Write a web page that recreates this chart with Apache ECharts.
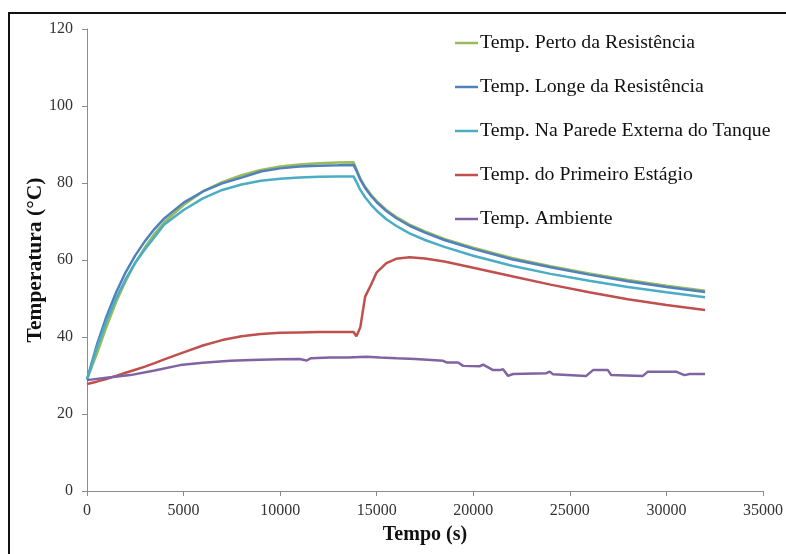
<!DOCTYPE html>
<html>
<head>
<meta charset="utf-8">
<script src="https://cdn.jsdelivr.net/npm/echarts@6/dist/echarts.min.js"></script>
<style>
  html, body { margin: 0; padding: 0; background: #fff; }
  #chart { width: 786px; height: 554px; }
</style>
</head>
<body>
<div id="chart"></div>
<script>
// tempos (s) comuns às quatro curvas suaves
const tempo = [0, 500, 1000, 1500, 2000, 2500, 3000, 3500, 4000, 5000, 6000, 7000, 8000, 9000, 10000, 11000, 12000, 13000,
  13800, 13950, 14150, 14400, 14700, 15000, 15500, 16000, 16700, 17500, 18500, 20000, 22000, 24000, 26000, 28000, 30000, 32000];

const perto = [29.0, 35.5, 42.5, 49.0, 54.5, 59.3, 63.3, 66.8, 69.8, 74.3, 77.8, 80.2, 82.0, 83.4, 84.3, 84.8, 85.1, 85.3,
  85.4, 83.6, 81.2, 79.0, 77.0, 75.3, 73.0, 71.2, 69.2, 67.4, 65.5, 63.2, 60.5, 58.4, 56.5, 54.8, 53.3, 52.0];

const longe = [29.0, 37.8, 45.2, 51.5, 56.8, 61.2, 64.9, 68.1, 70.8, 74.9, 77.8, 79.9, 81.4, 83.0, 83.8, 84.3, 84.5, 84.6,
  84.7, 83.2, 80.9, 78.7, 76.7, 75.0, 72.7, 70.9, 68.9, 67.1, 65.2, 62.9, 60.2, 58.1, 56.2, 54.5, 53.0, 51.7];

const parede = [29.0, 37.0, 44.0, 50.0, 55.0, 59.3, 62.8, 66.0, 69.2, 73.0, 76.0, 78.2, 79.6, 80.6, 81.1, 81.4, 81.6, 81.7,
  81.7, 80.3, 78.2, 76.3, 74.4, 72.8, 70.6, 68.9, 66.9, 65.2, 63.4, 61.1, 58.5, 56.4, 54.6, 53.0, 51.6, 50.3];

const primeiro = [27.8, 28.4, 29.1, 29.9, 30.7, 31.5, 32.3, 33.2, 34.2, 36.0, 37.8, 39.2, 40.2, 40.8, 41.1, 41.2, 41.3, 41.3,
  41.3, 40.2, 42.5, 50.5, 53.5, 56.8, 59.2, 60.3, 60.7, 60.4, 59.6, 58.0, 55.8, 53.6, 51.6, 49.8, 48.3, 47.0];

// temperatura ambiente tem degraus, tempos próprios
const tempoAmbiente = [0, 1000, 2240, 3500, 4825, 6000, 7410, 8500, 10000, 11000, 11375, 11600, 12580, 13500, 14480, 15165,
  16030, 17000, 18440, 18615, 19215, 19475, 20335, 20510, 21025, 21370, 21540, 21800, 22060, 23785, 23960, 24130, 25850,
  26200, 26970, 27140, 28780, 29040, 30500, 30930, 31200, 32000];
const ambiente = [28.8, 29.4, 30.1, 31.3, 32.7, 33.3, 33.8, 34.0, 34.2, 34.3, 33.9, 34.5, 34.7, 34.7, 34.9, 34.7,
  34.5, 34.3, 33.8, 33.4, 33.4, 32.5, 32.4, 32.8, 31.4, 31.4, 31.6, 29.9, 30.4, 30.6, 31.0, 30.3, 29.9,
  31.4, 31.4, 30.1, 29.9, 31.0, 31.0, 30.1, 30.4, 30.4];

const nomes = ['Temp. Perto da Resistência', 'Temp. Longe da Resistência', 'Temp. Na Parede Externa do Tanque',
  'Temp. do Primeiro Estágio', 'Temp. Ambiente'];
const cores = ['#9BBB59', '#4F81BD', '#4BACC6', '#C0504D', '#8064A2'];

const pares = (xs, ys) => xs.map((t, i) => [t, ys[i]]);

const fonte = '"Liberation Serif", "DejaVu Serif", serif';

function serie(nome, cor, dados) {
  return {
    name: nome,
    type: 'line',
    data: dados,
    symbol: 'none',
    smooth: false,
    lineStyle: { color: cor, width: 2.5 },
    itemStyle: { color: cor }
  };
}

const chart = echarts.init(document.getElementById('chart'), null, { renderer: 'canvas' });

chart.setOption({
  animation: false,
  backgroundColor: '#fff',
  graphic: [
    {
      type: 'rect',
      shape: { x: 9, y: 13, width: 800, height: 560 },
      style: { fill: 'none', stroke: '#111', lineWidth: 2 },
      silent: true
    }
  ],
  grid: { left: 87, right: 22, top: 29, bottom: 63 },
  legend: {
    orient: 'vertical',
    left: 450,
    top: 28,
    icon: 'rect',
    itemWidth: 23,
    itemHeight: 2.5,
    itemGap: 24,
    textStyle: { fontFamily: fonte, fontSize: 19.8, color: '#111', padding: [0, 0, 0, -3] },
    data: nomes
  },
  xAxis: {
    type: 'value',
    min: 0,
    max: 35000,
    interval: 5000,
    name: 'Tempo (s)',
    nameLocation: 'middle',
    nameGap: 34,
    nameTextStyle: { fontFamily: fonte, fontSize: 20, fontWeight: 'bold', color: '#111' },
    axisLine: { lineStyle: { color: '#8c8c8c', width: 1 } },
    axisTick: { show: true, length: 5, lineStyle: { color: '#8c8c8c' } },
    axisLabel: { fontFamily: fonte, fontSize: 16, color: '#333', margin: 12, formatter: v => String(v) },
    splitLine: { show: false }
  },
  yAxis: {
    type: 'value',
    min: 0,
    max: 120,
    interval: 20,
    name: 'Temperatura (°C)',
    nameLocation: 'middle',
    nameGap: 41,
    nameMoveOverlap: false,
    nameRotate: 90,
    nameTextStyle: { fontFamily: fonte, fontSize: 21.5, fontWeight: 'bold', color: '#111' },
    axisLine: { show: true, lineStyle: { color: '#8c8c8c', width: 1 } },
    axisTick: { show: true, length: 5, lineStyle: { color: '#8c8c8c' } },
    axisLabel: { fontFamily: fonte, fontSize: 16, color: '#333', margin: 14 },
    splitLine: { show: false }
  },
  series: [
    serie(nomes[0], cores[0], pares(tempo, perto)),
    serie(nomes[1], cores[1], pares(tempo, longe)),
    serie(nomes[2], cores[2], pares(tempo, parede)),
    serie(nomes[3], cores[3], pares(tempo, primeiro)),
    serie(nomes[4], cores[4], pares(tempoAmbiente, ambiente))
  ]
});
</script>
</body>
</html>
